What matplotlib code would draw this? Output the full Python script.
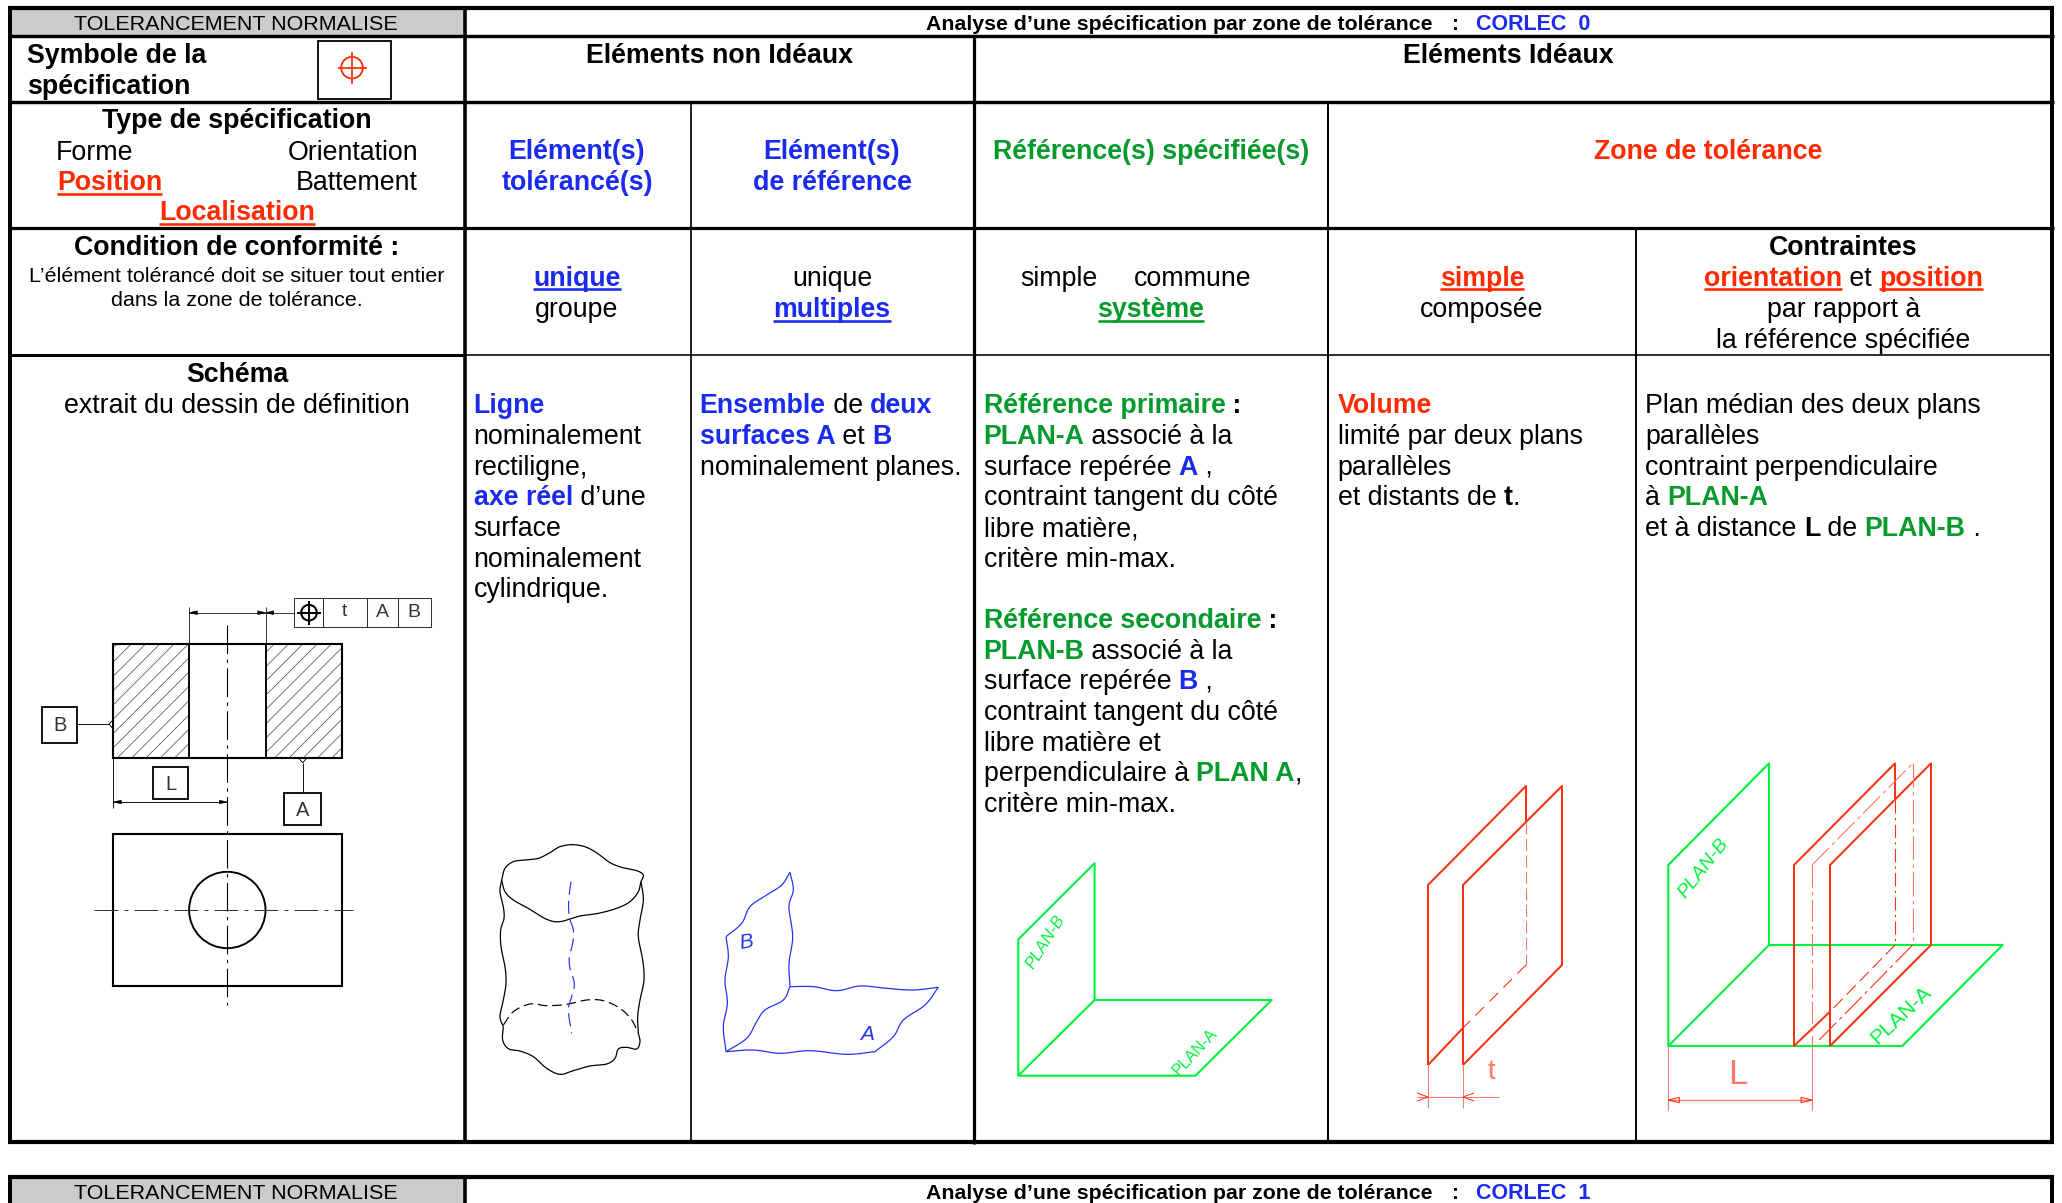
import numpy as np
import matplotlib
matplotlib.use("Agg")
import matplotlib.pyplot as plt
from matplotlib.patches import Rectangle, Circle, Polygon

BLUE = "#1A2BEE"; GREEN = "#049A2C"; RED = "#FF2A00"; BLACK = "#000000"
LGREEN = "#00F23C"; LRED = "#FF3010"; PALE = "#FF7868"; LBLUE = "#2435F0"
FONT = "Liberation Sans"; NARROW = ["Liberation Sans Narrow", "Liberation Sans"]
B, N = "bold", "normal"
SIZE = 19.25

# ---- text content -------------------------------------------------------------
col_ligne = [[("Ligne", B, BLUE)], [("nominalement", N, BLACK)], [("rectiligne,", N, BLACK)],
             [("axe réel", B, BLUE), (" d’une", N, BLACK)], [("surface", N, BLACK)],
             [("nominalement", N, BLACK)], [("cylindrique.", N, BLACK)]]
col_ref = [[("Ensemble", B, BLUE), (" de ", N, BLACK), ("deux", B, BLUE)],
           [("surfaces A", B, BLUE), (" et ", N, BLACK), ("B", B, BLUE)],
           [("nominalement planes.", N, BLACK)]]
col_datum = [[("Référence primaire", B, GREEN), (" :", B, BLACK)],
             [("PLAN-A", B, GREEN), (" associé à la", N, BLACK)],
             [("surface repérée ", N, BLACK), ("A", B, BLUE), (" ,", N, BLACK)],
             [("contraint tangent du côté", N, BLACK)], [("libre matière,", N, BLACK)],
             [("critère min-max.", N, BLACK)], [],
             [("Référence secondaire", B, GREEN), (" :", B, BLACK)],
             [("PLAN-B", B, GREEN), (" associé à la", N, BLACK)],
             [("surface repérée ", N, BLACK), ("B", B, BLUE), (" ,", N, BLACK)],
             [("contraint tangent du côté", N, BLACK)], [("libre matière et", N, BLACK)],
             [("perpendiculaire à ", N, BLACK), ("PLAN A", B, GREEN), (",", N, BLACK)],
             [("critère min-max.", N, BLACK)]]
col_zone = [[("Volume", B, RED)], [("limité par deux plans", N, BLACK)], [("parallèles", N, BLACK)],
            [("et distants de ", N, BLACK), ("t", B, BLACK), (".", N, BLACK)]]
col_contr = [[("Plan médian des deux plans", N, BLACK)], [("parallèles", N, BLACK)],
             [("contraint perpendiculaire", N, BLACK)], [("à ", N, BLACK), ("PLAN-A", B, GREEN)],
             [("et à distance ", N, BLACK), ("L", B, BLACK), (" de ", N, BLACK), ("PLAN-B", B, GREEN), (" .", N, BLACK)]]
body_columns = [(473.5, col_ligne), (699.5, col_ref), (983.5, col_datum), (1337.5, col_zone), (1645, col_contr)]
body_baseline = 413.4; body_step = 30.65

# ---- drawing outlines, as read on enlarged crops ------------------------------
cyl_top = [(95,120),(105,85),(130,65),(165,60),(205,55),(240,38),(270,20),(310,14),(350,22),(385,42),(420,68),(455,82),(500,92),(520,105),(513,125),(505,155),(480,185),(440,205),(385,220),(330,228),(270,245),(230,238),(180,208),(130,180),(105,155),(95,120)]
cyl_left = [(95,120),(90,155),(100,200),(102,235),(92,270),(93,320),(105,380),(108,430),(100,480),(90,530),(100,560)]
cyl_right = [(513,125),(520,180),(510,240),(505,290),(518,360),(522,420),(510,480),(503,530),(505,580)]
cyl_bottom = [(100,560),(98,600),(115,626),(150,633),(190,650),(230,685),(270,703),(310,692),(360,678),(410,672),(435,655),(445,627),(470,622),(500,627),(510,605),(505,580)]
cyl_back = [(100,555),(130,515),(180,492),(230,497),(290,493),(350,480),(400,482),(450,505),(485,540),(505,580)]
cyl_axis = [(303,125),(296,180),(298,230),(310,270),(308,310),(298,350),(300,385),(313,430),(305,470),(295,510),(305,580)]
surf_curves = [
 [(960,97),(970,150),(957,200),(968,290),(957,370),(960,440)],
 [(960,440),(940,480),(885,510),(860,545),(830,595),(768,635)],
 [(768,635),(760,560),(772,490),(765,420),(775,350),(768,290)],
 [(768,290),(815,250),(840,200),(890,165),(935,135),(960,97)],
 [(960,440),(1030,440),(1100,452),(1170,438),(1250,445),(1330,450),(1405,442)],
 [(1405,442),(1365,495),(1300,540),(1270,590),(1215,635)],
 [(1215,635),(1130,643),(1020,632),(930,640),(850,630),(768,635)]]
green1 = [(1018.3,1075.7),(1018.3,939.3),(1094.6,863.3),(1094.6,1000),(1018.3,1075.7),(1195.4,1075.7),(1271.7,1000),(1094.6,1000)]
red_back = [(1463,1065),(1463,885),(1562,786),(1562,965),(1463,1065)]
red_front = [(1428,1065),(1428,885),(1526,786),(1526,822)]
green2 = [(145,918),(145,375),(447,70),(447,615),(145,918),(847,918),(1148,615),(447,615)]
red2a = [(630,815),(522,918),(522,375),(825,70),(825,180)]
red2b = [(630,918),(630,375),(933,70),(933,615),(630,918)]

fig = plt.figure(figsize=(20.62, 12.03), dpi=100)
ax = fig.add_axes([0, 0, 1, 1]); ax.set_xlim(0, 2062); ax.set_ylim(1203, 0); ax.axis("off")
renderer = fig.canvas.get_renderer()
PT = 0.72

def line(xs, ys, px=1.0, c="k", ls="-", z=3, **kw):
    return ax.plot(xs, ys, color=c, lw=px*PT, ls=ls, solid_capstyle="butt", dash_capstyle="butt", zorder=z, **kw)[0]

def poly(pts, px=1.0, c="k", ls="-", z=3):
    a = np.array(pts, float); return line(a[:, 0], a[:, 1], px, c, ls, z)

def width(s, weight, size):
    def w(u):
        t = ax.text(0, 0, u, family=FONT, weight=weight, fontsize=size)
        e = t.get_window_extent(renderer).width; t.remove(); return e
    return w("|" + s + "|") - w("||")

def rich(x, y, segs, size=SIZE, align="left", under=False):
    ws = [width(s[0], s[1], size) for s in segs]
    if align == "center": x = x - sum(ws)/2
    for (s, wt, col), w_ in zip(segs, ws):
        ax.text(x, y, s, family=FONT, weight=wt, color=col, fontsize=size, ha="left", va="baseline", zorder=5)
        if under and s.strip():
            line([x, x+w_], [y+3.6, y+3.6], 2.6, col, z=5)
        x += w_

def ctext(x, y, s, wt=N, col=BLACK, size=SIZE, under=False):
    rich(x, y, [(s, wt, col)], size, "center", under)

def spline(pts, n=14):
    p = np.array(pts, float)
    q = np.vstack([2*p[0]-p[1], p, 2*p[-1]-p[-2]])
    out = []
    for i in range(1, len(q)-2):
        t = np.linspace(0, 1, n, endpoint=False)[:, None]
        a, b, c, d = q[i-1], q[i], q[i+1], q[i+2]
        out.append(0.5*((2*b)+(-a+c)*t+(2*a-5*b+4*c-d)*t**2+(-a+3*b-3*c+d)*t**3))
    out.append(p[-1:])
    return np.vstack(out)

def table_header(top, tag, bottom_clip):
    ax.add_patch(Rectangle((10, top), 454, bottom_clip-top, fc="#CBCBCB", ec="none", zorder=1))
    line([8, 2054], [top, top], 4.2)
    ctext(236, top+22.3, "TOLERANCEMENT NORMALISE", size=15.45)
    rich(926, top+22.3, [("Analyse d’une spécification par zone de tolérance", B, BLACK)], size=15.3)
    rich(1452, top+22.3, [(":", B, BLACK)], size=15.3)
    rich(1475.5, top+22.3, [("CORLEC  "+tag, B, BLUE)], size=15.5)

# ---- first table ---------------------------------------------------------------
table_header(7.5, "0", 36)
table_header(1176.5, "1", 1203)
for x, px in [(10, 4), (464.5, 3.6), (2052, 4)]:
    line([x, x], [6, 1144], px)
    line([x, x], [1175, 1203], px)
line([974, 974], [36, 1144], 3.2)
line([691, 691], [102, 1144], 1.7)
line([1328, 1328], [102, 1144], 2.0)
line([1636, 1636], [228, 1144], 1.9)
line([8, 2054], [36, 36], 3.4)
line([8, 2054], [102, 102], 3.4)
line([8, 2054], [227.5, 227.5], 3.2)
line([8, 464], [354.5, 354.5], 3.0)
line([464, 2054], [354.5, 354.5], 1.6)
line([8, 2054], [1142, 1142], 4.2)

# symbol
rich(27, 62.7, [("Symbole de la", B, BLACK)])
rich(27, 94.0, [("spécification", B, BLACK)])
ax.add_patch(Rectangle((318, 40.7), 73, 58.5, fc="white", ec="k", lw=1.3, zorder=3))
ax.add_patch(Circle((352, 67.7), 10.8, fc="none", ec=RED, lw=1.3, zorder=4))
line([338, 367], [67.7, 67.7], 1.7, RED); line([352, 352], [52, 83.5], 1.7, RED)

ctext(719, 62.7, "Eléments non Idéaux", B)
ctext(1508, 62.7, "Eléments Idéaux", B)

ctext(237, 128, "Type de spécification", B)
rich(56, 160, [("Forme", N, BLACK)]); rich(288, 160, [("Orientation", N, BLACK)])
rich(57, 190, [("Position", B, RED)], under=True); rich(296, 190, [("Battement", N, BLACK)])
ctext(237, 220, "Localisation", B, RED, under=True)

for cx, l1, l2, col in [(577, "Elément(s)", "tolérancé(s)", BLUE), (832, "Elément(s)", "de référence", BLUE)]:
    ctext(cx, 159.2, l1, B, col); ctext(cx, 190, l2, B, col)
ctext(1151, 159.2, "Référence(s) spécifiée(s)", B, GREEN)
ctext(1708, 159.2, "Zone de tolérance", B, RED)

ctext(237, 255, "Condition de conformité :", B)
ctext(237, 281.7, "L’élément tolérancé doit se situer tout entier", size=15.45)
ctext(237, 306, "dans la zone de tolérance.", size=15.45)

ctext(577, 285.7, "unique", B, BLUE, under=True); ctext(577, 317, "groupe")
ctext(832, 285.7, "unique"); ctext(832, 317, "multiples", B, BLUE, under=True)
rich(1020, 285.7, [("simple", N, BLACK)]); rich(1134, 285.7, [("commune", N, BLACK)])
ctext(1151, 317, "système", B, GREEN, under=True)
ctext(1482, 285.7, "simple", B, RED, under=True); ctext(1482, 317, "composée")
ctext(1843.5, 255, "Contraintes", B)
w1, w2, w3 = width("orientation", B, SIZE), width(" et ", N, SIZE), width("position", B, SIZE)
x0 = 1843.5-(w1+w2+w3)/2
rich(x0, 285.7, [("orientation", B, RED)], under=True)
rich(x0+w1, 285.7, [(" et ", N, BLACK)])
rich(x0+w1+w2, 285.7, [("position", B, RED)], under=True)
ctext(1843.5, 317, "par rapport à"); ctext(1843.5, 347.5, "la référence spécifiée")

ctext(237, 382, "Schéma", B); ctext(237, 413.4, "extrait du dessin de définition")
for x, lines_ in body_columns:
    for i, segs in enumerate(lines_):
        if segs: rich(x, body_baseline + i*body_step, segs)

# ---- part drawing ---------------------------------------------------------------
CX = 227.3
for x0_, x1_ in [(113.3, 189.3), (265.7, 341.7)]:
    clip = Rectangle((x0_, 644), x1_-x0_, 113.7, transform=ax.transData)
    for k in np.arange(60, 560, 14.3):
        l = line([k-120, k], [763.7, 643.7], 0.7, "#444444", z=2)
        l.set_clip_path(clip)
for r in [(113.3, 644, 228.4, 113.7), (113.3, 834, 228.4, 151.7)]:
    ax.add_patch(Rectangle(r[:2], r[2], r[3], fc="none", ec="k", lw=2.1*PT, zorder=4))
for x in (189.3, 265.7):
    line([x, x], [644, 757.7], 1.9, z=4); line([x, x], [607, 644], 0.9, "#222222")
ax.add_patch(Circle((CX, 910), 38.2, fc="none", ec="k", lw=1.9*PT, zorder=4))
line([CX, CX], [625, 1005], 1.1, "k", (0, (26, 5, 3, 5)), z=4)
line([94, 353], [910, 910], 1.0, "#333333", (0, (24, 6, 4, 6)), z=4)
line([189.3, 296.7], [612.7, 612.7], 0.9, "#222222")
for xa, d in [(189.3, 1), (265.7, -1), (265.7, 1)]:
    ax.add_patch(Polygon([(xa, 612.7), (xa+d*8, 610.8), (xa+d*8, 614.6)], fc="k", ec="k", lw=.4, zorder=4))
for a, b_ in [(294.3, 323.3), (323.3, 366.7), (366.7, 398.3), (398.3, 430.7)]:
    ax.add_patch(Rectangle((a, 598.3), b_-a, 29, fc="white", ec="#333333", lw=0.75, zorder=4))
ax.add_patch(Circle((309, 612.7), 7.8, fc="none", ec="k", lw=1.5, zorder=5))
line([297, 321], [612.7, 612.7], 2, z=5); line([309, 309], [601, 624.5], 2, z=5)
def cad(x, y, s, size=13.5, col="#333333", rot=0, style="normal"):
    ax.text(x, y, s, family=NARROW, fontsize=size, color=col, ha="center", va="center", rotation=rot, rotation_mode="anchor", style=style, zorder=6)
cad(344.5, 612, "t", 14); cad(382, 612.5, "A", 14); cad(414, 612.5, "B", 14)
for r in [(42.3, 706.7, 35, 36), (284.3, 793.3, 36.4, 32), (152.7, 767.3, 35.6, 32)]:
    ax.add_patch(Rectangle(r[:2], r[2], r[3], fc="white", ec="k", lw=1.3, zorder=4))
cad(59.8, 725.5, "B", 14.5); cad(302.5, 810, "A", 14.5); cad(170.5, 784, "L", 14.5)
line([77.3, 109], [724.3, 724.3], 0.9)
poly([(113, 720), (109, 724.3), (113, 728.6)], 0.9)
line([302.7, 302.7], [762.7, 793.3], 0.9)
poly([(298.3, 758), (302.7, 762.7), (307, 758)], 0.9)
line([113.3, 113.3], [757.7, 808], 0.9); line([113.3, CX], [802, 802], 0.9)
for xa, d in [(113.3, 1), (CX, -1)]:
    ax.add_patch(Polygon([(xa, 802), (xa+d*8, 800.2), (xa+d*8, 803.8)], fc="k", ec="k", lw=.4, zorder=4))

# ---- non ideal elements ---------------------------------------------------------
def z3(pts, ox=470, oy=840, sx=3.0, sy=3.0):
    return [(ox+p[0]/sx, oy+p[1]/sy) for p in pts]
for c in (cyl_top, cyl_left, cyl_right, cyl_bottom):
    poly(spline(z3(c)), 1.25, "#000000")
poly(spline(z3(cyl_back)), 1.2, "#000000", (0, (8, 4)))
poly(spline(z3(cyl_axis)), 1.2, LBLUE, (0, (11, 5)))
for c in surf_curves:
    poly(spline(z3(c)), 1.25, LBLUE)
cad(470+830/3, 840+308/3, "B", 15, LBLUE, 10, "italic")
cad(470+1192/3, 840+583/3, "A", 15, LBLUE, 0, "italic")

# ---- ideal elements -------------------------------------------------------------
poly(green1, 2.1, LGREEN)
cad(980+165/2.53, 840+307/3, "PLAN-B", 12, LGREEN, 58, "italic")
cad(980+545/2.53, 840+635/3, "PLAN-A", 11.5, LGREEN, 47)
poly(red_back, 2.0, LRED); poly(red_front, 2.0, LRED)
line([1526, 1526], [822, 965], 1.1, PALE, (0, (11, 4)))
line([1526, 1463], [965, 1028], 1.1, LRED, (0, (11, 7)))
line([1463, 1428], [1028, 1065], 2.0, LRED)
for x in (1428, 1463):
    line([x, x], [1065, 1108], 1.0, PALE)
line([1417, 1498.6], [1097, 1097], 1.0, PALE)
poly([(1417, 1093), (1428, 1097), (1417, 1101)], 1.0, LRED)
poly([(1474, 1093), (1463, 1097), (1474, 1101)], 1.0, LRED)
cad(1491, 1072, "t", 20, PALE)

def z5(pts): return z3(pts, 1620, 740)
poly(z5(green2), 2.1, LGREEN)
poly(z5(red2a), 2.0, LRED); poly(z5(red2b), 2.0, LRED)
def zl(p, q, *a, **k):
    P = z5([p, q]); line([P[0][0], P[1][0]], [P[0][1], P[1][1]], *a, **k)
zl((825, 180), (825, 615), 1.1, LRED, (0, (12, 4, 2, 4)))
zl((825, 615), (630, 815), 1.1, LRED, (0, (12, 5)))
zl((576, 375), (576, 918), 1.1, PALE, (0, (20, 4, 3, 4)))
zl((576, 375), (878, 70), 1.1, PALE, (0, (22, 4, 3, 4)))
zl((878, 70), (878, 615), 1.1, PALE, (0, (22, 4, 3, 4)))
zl((878, 615), (590, 908), 1.1, LRED, (0, (22, 4, 3, 4)))
zl((145, 918), (145, 1110), 1.0, PALE)
zl((576, 918), (576, 1110), 1.0, PALE)
zl((145, 1080), (576, 1080), 1.4, PALE)
for xa, d in [(145, 1), (576, -1)]:
    ax.add_patch(Polygon(z5([(xa, 1080), (xa+d*33, 1072), (xa+d*33, 1088)]), fc="none", ec=LRED, lw=.8, zorder=4))
cad(1620+352/3, 740+1005/3, "L", 25, PALE)
cad(1620+252/3, 740+385/3, "PLAN-B", 14, LGREEN, 52, "italic")
cad(1620+842/3, 740+825/3, "PLAN-A", 15, LGREEN, 43)

fig.savefig("out.png", dpi=100, facecolor="white")
